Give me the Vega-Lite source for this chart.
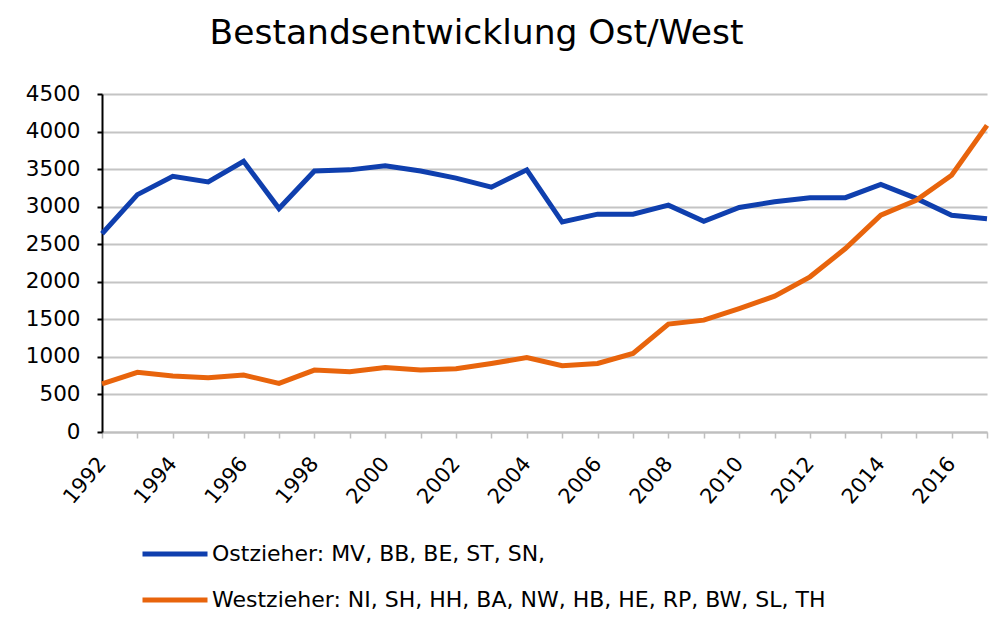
{
  "$schema": "https://vega.github.io/schema/vega-lite/v6.json",
  "autosize": "none",
  "width": 885,
  "height": 338,
  "padding": {"left": 102, "top": 94, "right": 13, "bottom": 198},
  "background": "white",
  "title": {
    "text": "Bestandsentwicklung Ost/West",
    "font": "DejaVu Sans",
    "fontSize": 34.5,
    "fontWeight": "normal",
    "color": "#000000",
    "anchor": "middle",
    "frame": "group",
    "dx": -68,
    "baseline": "alphabetic",
    "offset": 5
  },
  "config": {
    "view": {"stroke": null},
    "font": "DejaVu Sans"
  },
  "datasets": {
    "main": [
      {"year": 1992, "series": "Ostzieher: MV, BB, BE, ST, SN,", "value": 2640},
      {"year": 1993, "series": "Ostzieher: MV, BB, BE, ST, SN,", "value": 3160},
      {"year": 1994, "series": "Ostzieher: MV, BB, BE, ST, SN,", "value": 3405},
      {"year": 1995, "series": "Ostzieher: MV, BB, BE, ST, SN,", "value": 3330},
      {"year": 1996, "series": "Ostzieher: MV, BB, BE, ST, SN,", "value": 3605},
      {"year": 1997, "series": "Ostzieher: MV, BB, BE, ST, SN,", "value": 2975},
      {"year": 1998, "series": "Ostzieher: MV, BB, BE, ST, SN,", "value": 3475},
      {"year": 1999, "series": "Ostzieher: MV, BB, BE, ST, SN,", "value": 3490},
      {"year": 2000, "series": "Ostzieher: MV, BB, BE, ST, SN,", "value": 3545},
      {"year": 2001, "series": "Ostzieher: MV, BB, BE, ST, SN,", "value": 3475},
      {"year": 2002, "series": "Ostzieher: MV, BB, BE, ST, SN,", "value": 3380},
      {"year": 2003, "series": "Ostzieher: MV, BB, BE, ST, SN,", "value": 3260},
      {"year": 2004, "series": "Ostzieher: MV, BB, BE, ST, SN,", "value": 3490},
      {"year": 2005, "series": "Ostzieher: MV, BB, BE, ST, SN,", "value": 2795},
      {"year": 2006, "series": "Ostzieher: MV, BB, BE, ST, SN,", "value": 2900},
      {"year": 2007, "series": "Ostzieher: MV, BB, BE, ST, SN,", "value": 2900},
      {"year": 2008, "series": "Ostzieher: MV, BB, BE, ST, SN,", "value": 3020},
      {"year": 2009, "series": "Ostzieher: MV, BB, BE, ST, SN,", "value": 2805},
      {"year": 2010, "series": "Ostzieher: MV, BB, BE, ST, SN,", "value": 2990},
      {"year": 2011, "series": "Ostzieher: MV, BB, BE, ST, SN,", "value": 3065},
      {"year": 2012, "series": "Ostzieher: MV, BB, BE, ST, SN,", "value": 3120},
      {"year": 2013, "series": "Ostzieher: MV, BB, BE, ST, SN,", "value": 3120},
      {"year": 2014, "series": "Ostzieher: MV, BB, BE, ST, SN,", "value": 3295},
      {"year": 2015, "series": "Ostzieher: MV, BB, BE, ST, SN,", "value": 3110},
      {"year": 2016, "series": "Ostzieher: MV, BB, BE, ST, SN,", "value": 2885},
      {"year": 2017, "series": "Ostzieher: MV, BB, BE, ST, SN,", "value": 2840},
      {"year": 1992, "series": "Westzieher: NI, SH, HH, BA, NW, HB, HE, RP, BW, SL, TH", "value": 640},
      {"year": 1993, "series": "Westzieher: NI, SH, HH, BA, NW, HB, HE, RP, BW, SL, TH", "value": 795},
      {"year": 1994, "series": "Westzieher: NI, SH, HH, BA, NW, HB, HE, RP, BW, SL, TH", "value": 745},
      {"year": 1995, "series": "Westzieher: NI, SH, HH, BA, NW, HB, HE, RP, BW, SL, TH", "value": 722},
      {"year": 1996, "series": "Westzieher: NI, SH, HH, BA, NW, HB, HE, RP, BW, SL, TH", "value": 758},
      {"year": 1997, "series": "Westzieher: NI, SH, HH, BA, NW, HB, HE, RP, BW, SL, TH", "value": 648},
      {"year": 1998, "series": "Westzieher: NI, SH, HH, BA, NW, HB, HE, RP, BW, SL, TH", "value": 824},
      {"year": 1999, "series": "Westzieher: NI, SH, HH, BA, NW, HB, HE, RP, BW, SL, TH", "value": 802},
      {"year": 2000, "series": "Westzieher: NI, SH, HH, BA, NW, HB, HE, RP, BW, SL, TH", "value": 860},
      {"year": 2001, "series": "Westzieher: NI, SH, HH, BA, NW, HB, HE, RP, BW, SL, TH", "value": 824},
      {"year": 2002, "series": "Westzieher: NI, SH, HH, BA, NW, HB, HE, RP, BW, SL, TH", "value": 842},
      {"year": 2003, "series": "Westzieher: NI, SH, HH, BA, NW, HB, HE, RP, BW, SL, TH", "value": 913},
      {"year": 2004, "series": "Westzieher: NI, SH, HH, BA, NW, HB, HE, RP, BW, SL, TH", "value": 990},
      {"year": 2005, "series": "Westzieher: NI, SH, HH, BA, NW, HB, HE, RP, BW, SL, TH", "value": 882},
      {"year": 2006, "series": "Westzieher: NI, SH, HH, BA, NW, HB, HE, RP, BW, SL, TH", "value": 913},
      {"year": 2007, "series": "Westzieher: NI, SH, HH, BA, NW, HB, HE, RP, BW, SL, TH", "value": 1046},
      {"year": 2008, "series": "Westzieher: NI, SH, HH, BA, NW, HB, HE, RP, BW, SL, TH", "value": 1436},
      {"year": 2009, "series": "Westzieher: NI, SH, HH, BA, NW, HB, HE, RP, BW, SL, TH", "value": 1489},
      {"year": 2010, "series": "Westzieher: NI, SH, HH, BA, NW, HB, HE, RP, BW, SL, TH", "value": 1644},
      {"year": 2011, "series": "Westzieher: NI, SH, HH, BA, NW, HB, HE, RP, BW, SL, TH", "value": 1809},
      {"year": 2012, "series": "Westzieher: NI, SH, HH, BA, NW, HB, HE, RP, BW, SL, TH", "value": 2066},
      {"year": 2013, "series": "Westzieher: NI, SH, HH, BA, NW, HB, HE, RP, BW, SL, TH", "value": 2442},
      {"year": 2014, "series": "Westzieher: NI, SH, HH, BA, NW, HB, HE, RP, BW, SL, TH", "value": 2886},
      {"year": 2015, "series": "Westzieher: NI, SH, HH, BA, NW, HB, HE, RP, BW, SL, TH", "value": 3085},
      {"year": 2016, "series": "Westzieher: NI, SH, HH, BA, NW, HB, HE, RP, BW, SL, TH", "value": 3418},
      {"year": 2017, "series": "Westzieher: NI, SH, HH, BA, NW, HB, HE, RP, BW, SL, TH", "value": 4082}
    ]
  },
  "data": {"name": "main"},
  "mark": {"type": "line", "strokeWidth": 5, "strokeJoin": "miter", "clip": false},
  "encoding": {
    "x": {
      "field": "year",
      "type": "quantitative",
      "scale": {"domain": [1992, 2017], "nice": false, "zero": false},
      "axis": {
        "title": null,
        "values": [1992,1993,1994,1995,1996,1997,1998,1999,2000,2001,2002,2003,2004,2005,2006,2007,2008,2009,2010,2011,2012,2013,2014,2015,2016,2017],
        "labelExpr": "(datum.value % 2 == 0 && datum.value < 2017) ? toString(datum.value) : ''",
        "labelAngle": -50,
        "labelAlign": "right",
        "labelBaseline": "middle",
        "labelFontSize": 21,
        "labelColor": "#000000",
        "labelPadding": 22,
        "labelOverlap": false,
        "labelBound": false,
        "labelFlush": false,
        "grid": false,
        "domainColor": "#bfbfbf",
        "domainWidth": 2,
        "tickColor": "#bfbfbf",
        "tickWidth": 1.5,
        "tickSize": 6
      }
    },
    "y": {
      "field": "value",
      "type": "quantitative",
      "scale": {"domain": [0, 4500], "nice": false},
      "axis": {
        "title": null,
        "values": [0,500,1000,1500,2000,2500,3000,3500,4000,4500],
        "format": "d",
        "labelFontSize": 21.5,
        "labelColor": "#000000",
        "labelPadding": 17,
        "grid": true,
        "gridColor": "#c4c4c4",
        "gridWidth": 2,
        "domainColor": "#000000",
        "domainWidth": 2,
        "tickColor": "#000000",
        "tickWidth": 2,
        "tickSize": 5
      }
    },
    "color": {
      "field": "series",
      "type": "nominal",
      "scale": {
        "domain": ["Ostzieher: MV, BB, BE, ST, SN,", "Westzieher: NI, SH, HH, BA, NW, HB, HE, RP, BW, SL, TH"],
        "range": ["#0f3fae", "#e8640c"]
      },
      "legend": {
        "title": null,
        "orient": "none",
        "legendX": 38,
        "legendY": 425,
        "direction": "vertical",
        "symbolType": "stroke",
        "symbolStrokeWidth": 5,
        "symbolSize": 4225,
        "labelFontSize": 22,
        "labelColor": "#000000",
        "labelLimit": 900,
        "labelOffset": 2,
        "rowPadding": -11
      }
    }
  }
}
